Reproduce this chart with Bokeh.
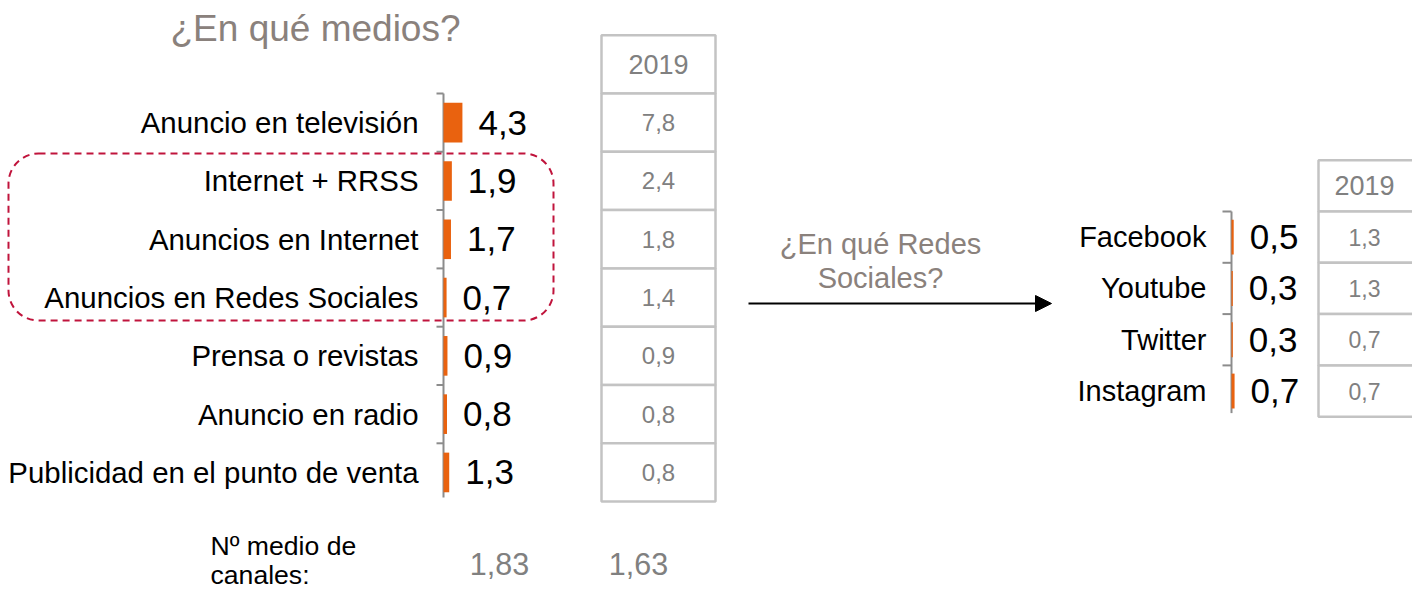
from bokeh.plotting import figure
from bokeh.models import Range1d, BoxAnnotation, Arrow, NormalHead, ColumnDataSource
from bokeh.embed import file_html
from bokeh.resources import INLINE
from bokeh.core.properties import value

# ---------------- data ----------------
medios = ["Anuncio en televisión", "Internet + RRSS", "Anuncios en Internet",
          "Anuncios en Redes Sociales", "Prensa o revistas", "Anuncio en radio",
          "Publicidad en el punto de venta"]
medios_actual = [4.3, 1.9, 1.7, 0.7, 0.9, 0.8, 1.3]
medios_2019 = [7.8, 2.4, 1.8, 1.4, 0.9, 0.8, 0.8]

redes = ["Facebook", "Youtube", "Twitter", "Instagram"]
redes_actual = [0.5, 0.3, 0.3, 0.7]
redes_2019 = [1.3, 1.3, 0.7, 0.7]

anio_comparacion = "2019"
media_canales_actual = "1,83"
media_canales_2019 = "1,63"

titulo = "¿En qué medios?"
texto_flecha = ["¿En qué Redes", "Sociales?"]
texto_media = ["Nº medio de", "canales:"]

# ---------------- styles ----------------
FONT = value("Liberation Sans")
ORANGE = "#E9620F"
TITLE_GREY = "#8A817C"
TABLE_GREY = "#808080"
BORDER_GREY = "#C3C3C3"
AXIS_GREY = "#8C8C8C"
DASH_RED = "#C0143C"


def fmt(v):
    return f"{v:.1f}".replace(".", ",")


W, H = 1412, 591
OX, OY = 0, 0
PX_PER_UNIT = 4.4

# left chart geometry
L_AXIS_X = 443
L_TOP = 93
L_BAND = 58.3
# right chart geometry
R_AXIS_X = 1231
R_TOP = 211
R_BAND = 51.3

p = figure(width=W, height=H, x_range=Range1d(OX, OX + W), y_range=Range1d(OY + H, OY),
           output_backend="svg", toolbar_location=None, min_border=0)
p.axis.visible = False
p.grid.visible = False
p.outline_line_color = None
p.background_fill_color = "white"
p.border_fill_color = "white"


def cat_range(top, band):
    return Range1d(start=(OY + H - top) / band - 0.5, end=(OY - top) / band - 0.5)


def val_range(axis_x):
    return Range1d(start=(OX - axis_x) / PX_PER_UNIT, end=(OX + W - axis_x) / PX_PER_UNIT)


p.extra_y_ranges = {"lc": cat_range(L_TOP, L_BAND), "rc": cat_range(R_TOP, R_BAND)}
p.extra_x_ranges = {"lv": val_range(L_AXIS_X), "rv": val_range(R_AXIS_X)}

# ---------------- title ----------------
p.text(x=[170], y=[28], text=[titulo], text_font=FONT, text_font_size="37px",
       text_color=TITLE_GREY, text_baseline="middle", text_align="left")

# ---------------- dashed highlight box ----------------
p.add_layout(BoxAnnotation(left=8, right=553, top=153, bottom=320, fill_alpha=0,
                           line_color=DASH_RED, line_alpha=1.0, line_dash="7 5",
                           line_width=2, border_radius=30))


def draw_panel(cats, vals, vals_prev, xr, yr, label_x, label_size, cat_size,
               table_left, table_right, text_cx, head_size, cell_size, tick_len):
    n = len(cats)
    idx = list(range(n))
    src = ColumnDataSource(dict(y=idx, v=vals, lab=[fmt(v) for v in vals], cat=cats,
                                lx=[label_x] * n))
    rows = [-1] + idx
    # table cells
    p.quad(left=[table_left] * (n + 1), right=[table_right] * (n + 1),
           top=[r - 0.5 for r in rows], bottom=[r + 0.5 for r in rows],
           y_range_name=yr, fill_color="white", line_color=BORDER_GREY, line_width=2.5)
    p.text(x=[text_cx], y=[-1], text=[anio_comparacion], y_range_name=yr,
           text_font=FONT, text_font_size=head_size, text_color=TABLE_GREY,
           text_align="center", text_baseline="middle")
    p.text(x=[text_cx] * n, y=idx, text=[fmt(v) for v in vals_prev], y_range_name=yr,
           text_font=FONT, text_font_size=cell_size, text_color=TABLE_GREY,
           text_align="center", text_baseline="middle")
    # axis line and ticks
    p.segment(x0=[0], y0=[-0.5], x1=[0], y1=[n - 0.57], x_range_name=xr, y_range_name=yr,
              line_color=AXIS_GREY, line_width=2)
    p.segment(x0=[-tick_len / PX_PER_UNIT] * n, y0=[i - 0.5 for i in idx], x1=[0] * n,
              y1=[i - 0.5 for i in idx], x_range_name=xr, y_range_name=yr,
              line_color=AXIS_GREY, line_width=2)
    # bars
    p.hbar(y="y", left=0, right="v", height=0.68, source=src, x_range_name=xr,
           y_range_name=yr, fill_color=ORANGE, line_color=None)
    # value labels
    p.text(x="v", y="y", text="lab", source=src, x_offset=16, x_range_name=xr,
           y_range_name=yr, text_font=FONT, text_font_size=label_size, text_color="black",
           text_align="left", text_baseline="middle")
    # category labels
    p.text(x="lx", y="y", text="cat", source=src, y_range_name=yr,
           text_font=FONT, text_font_size=cat_size,
           text_color="black", text_align="right", text_baseline="middle")


draw_panel(medios, medios_actual, medios_2019, "lv", "lc", 418, "35px", "29.4px",
           601, 715, 658, "27px", "24px", 7)
draw_panel(redes, redes_actual, redes_2019, "rv", "rc", 1206, "35px", "29px",
           1318, 1420, 1364, "27px", "23px", 9)

# ---------------- bottom: average number of channels ----------------
p.text(x=[210, 210], y=[545, 574], text=texto_media, text_font=FONT, text_font_size="26.6px",
       text_color="black", text_align="left", text_baseline="middle")
p.text(x=[499, 638], y=[563, 563], text=[media_canales_actual, media_canales_2019],
       text_font=FONT, text_font_size="30.5px", text_color=TABLE_GREY, text_align="center",
       text_baseline="middle")

# ---------------- arrow to social networks ----------------
p.text(x=[880, 880], y=[243, 277], text=texto_flecha, text_font=FONT, text_font_size="29px",
       text_color=TITLE_GREY, text_align="center", text_baseline="middle")
p.add_layout(Arrow(end=NormalHead(size=16, fill_color="black", line_color="black"),
                   x_start=748, y_start=303, x_end=1051, y_end=303,
                   line_width=2, line_color="black"))

open("out.html", "w").write(file_html(p, INLINE))
